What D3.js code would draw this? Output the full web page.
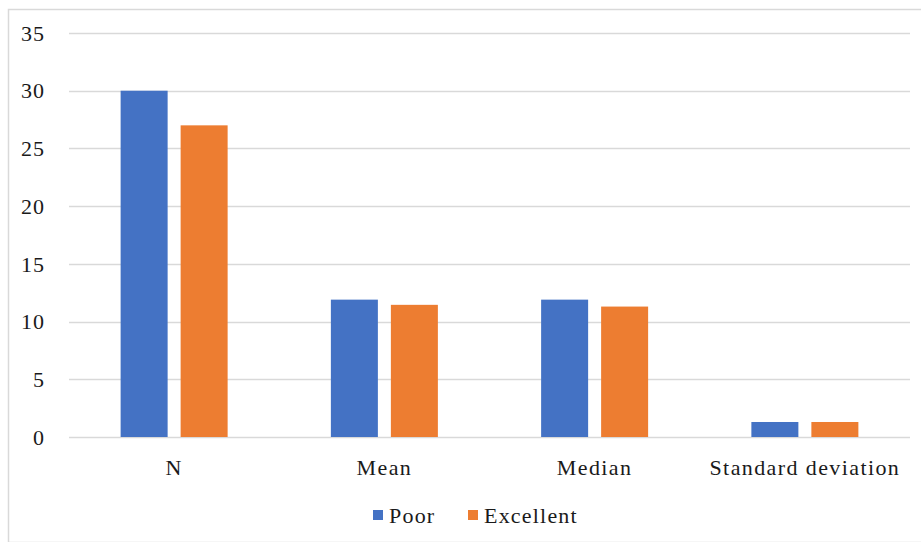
<!DOCTYPE html>
<html>
<head>
<meta charset="utf-8">
<script src="https://cdn.jsdelivr.net/npm/d3@7"></script>
</head>
<body style="margin:0; background:#fff">
<svg id="chart" width="921" height="542" font-family="Liberation Serif, Times New Roman, serif"></svg>
<script>
// data
const categories = ["N", "Mean", "Median", "Standard deviation"];
const seriesNames = ["Poor", "Excellent"];
const poorValues = [30, 11.9, 11.9, 1.3];
const excellentValues = [27, 11.45, 11.3, 1.3];
const yTicks = [0, 5, 10, 15, 20, 25, 30, 35];
const colors = ["#4472C4", "#ED7D31"];

const FONT = "Liberation Serif, Times New Roman, serif";

const svg = d3.select("#chart");
const W = 921, H = 542;
const margin = {top: 33, right: 11, bottom: 105, left: 69};

// outer chart border
svg.append("rect")
    .attr("x", 8.5).attr("y", 9.5)
    .attr("width", W + 10).attr("height", H - 9)
    .attr("fill", "none").attr("stroke", "#d9d9d9").attr("stroke-width", 1.5);

const rows = categories.map((c, i) => ({cat: c, Poor: poorValues[i], Excellent: excellentValues[i]}));

const x0 = d3.scaleBand().domain(categories).range([margin.left, W - margin.right]);
const x1 = d3.scaleBand().domain(seriesNames)
    .range([x0.bandwidth() / 2 - 53.5, x0.bandwidth() / 2 + 53.5])
    .paddingInner(13 / 60);
const y = d3.scaleLinear().domain([0, 35]).range([H - margin.bottom, margin.top]);
const color = d3.scaleOrdinal().domain(seriesNames).range(colors);

// gridlines
svg.append("g")
    .selectAll("line")
    .data(yTicks)
    .join("line")
    .attr("x1", margin.left).attr("x2", W - margin.right)
    .attr("y1", d => Math.round(y(d)) + 0.5).attr("y2", d => Math.round(y(d)) + 0.5)
    .attr("stroke", "#d9d9d9").attr("stroke-width", 1.5);

// y labels
svg.append("g")
    .selectAll("text")
    .data(yTicks)
    .join("text")
    .attr("x", 45)
    .attr("y", d => y(d))
    .attr("dy", "0.35em")
    .attr("text-anchor", "end")
    .attr("font-family", FONT)
    .style("font-family", FONT)
    .style("font-size", "22px")
    .style("letter-spacing", "1px")
    .style("fill", "#1a1a1a")
    .text(d => d);

// bars
svg.append("g")
    .selectAll("g")
    .data(rows)
    .join("g")
    .attr("transform", d => `translate(${x0(d.cat)},0)`)
    .selectAll("rect")
    .data(d => seriesNames.map(k => ({key: k, value: d[k]})))
    .join("rect")
    .attr("x", d => x1(d.key))
    .attr("y", d => y(d.value))
    .attr("width", x1.bandwidth())
    .attr("height", d => y(0) - y(d.value))
    .attr("fill", d => color(d.key));

// category labels
svg.append("g")
    .selectAll("text")
    .data(categories)
    .join("text")
    .attr("x", d => x0(d) + x0.bandwidth() / 2)
    .attr("y", 475)
    .attr("text-anchor", "middle")
    .attr("font-family", FONT)
    .style("font-family", FONT)
    .style("font-size", "22px")
    .style("letter-spacing", "1.4px")
    .style("fill", "#1a1a1a")
    .text(d => d);

// legend
const legendItems = [{l: "Poor", x: 373}, {l: "Excellent", x: 468}];
const lg = svg.append("g");
legendItems.forEach(item => {
    lg.append("rect")
        .attr("x", item.x).attr("y", 510)
        .attr("width", 10).attr("height", 10)
        .attr("fill", color(item.l));
    lg.append("text")
        .attr("x", item.x + 16).attr("y", 523)
        .attr("font-family", FONT)
        .style("font-family", FONT)
        .style("font-size", "22px")
        .style("letter-spacing", "1.2px")
        .style("fill", "#1a1a1a")
        .text(item.l);
});
</script>
</body>
</html>
